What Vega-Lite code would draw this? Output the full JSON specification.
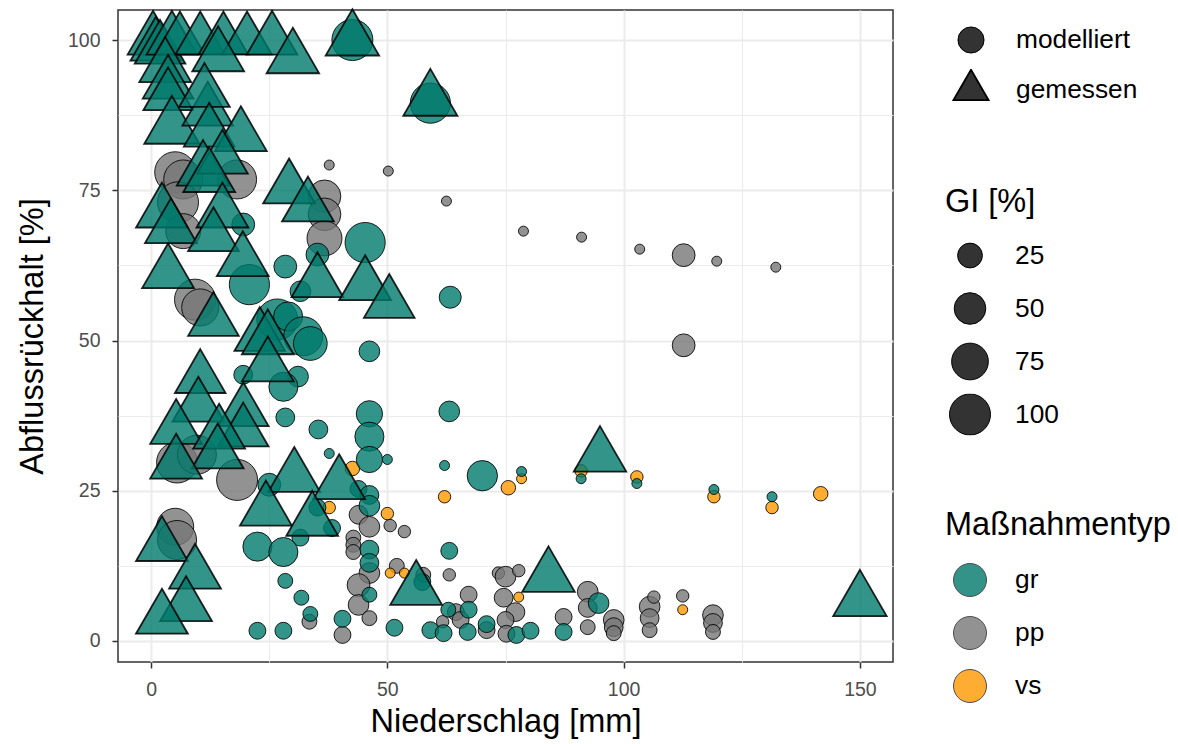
{
  "$schema": "https://vega.github.io/schema/vega-lite/v6.json",
  "autosize": {"type": "none"},
  "width": 775,
  "height": 652,
  "padding": {"left": 118, "top": 10, "right": 285, "bottom": 82},
  "background": "white",
  "config": {
    "font": "Liberation Sans",
    "view": {"stroke": "#333333", "strokeWidth": 1.5},
    "axis": {
      "domain": false,
      "grid": true,
      "gridColor": "#ebebeb",
      "tickColor": "#333333",
      "tickSize": 6,
      "tickWidth": 1.5,
      "labelFont": "Liberation Sans",
      "labelFontSize": 19.5,
      "labelColor": "#4d4d4d",
      "titleFont": "Liberation Sans",
      "titleFontSize": 32.5,
      "titleFontWeight": "normal",
      "titleColor": "#000000"
    },
    "legend": {
      "orient": "none",
      "padding": 0,
      "titleFont": "Liberation Sans",
      "titleFontSize": 32.5,
      "titleFontWeight": "normal",
      "titleColor": "#000000",
      "titleLimit": 400,
      "labelFont": "Liberation Sans",
      "labelFontSize": 26.3,
      "labelColor": "#000000",
      "labelLimit": 300
    }
  },
  "data": {
    "values": [
      {"N": 37.7, "R": 79.2, "GI": 3, "typ": "pp", "art": "modelliert"},
      {"N": 50.2, "R": 78.2, "GI": 3, "typ": "pp", "art": "modelliert"},
      {"N": 62.5, "R": 73.2, "GI": 3, "typ": "pp", "art": "modelliert"},
      {"N": 78.8, "R": 68.2, "GI": 3, "typ": "pp", "art": "modelliert"},
      {"N": 91.1, "R": 67.2, "GI": 3, "typ": "pp", "art": "modelliert"},
      {"N": 103.4, "R": 65.2, "GI": 3, "typ": "pp", "art": "modelliert"},
      {"N": 112.7, "R": 64.2, "GI": 20, "typ": "pp", "art": "modelliert"},
      {"N": 119.7, "R": 63.2, "GI": 3, "typ": "pp", "art": "modelliert"},
      {"N": 132.2, "R": 62.2, "GI": 3, "typ": "pp", "art": "modelliert"},
      {"N": 112.7, "R": 49.2, "GI": 20, "typ": "pp", "art": "modelliert"},
      {"N": 36.7, "R": 74, "GI": 55, "typ": "pp", "art": "modelliert"},
      {"N": 36.7, "R": 71, "GI": 55, "typ": "pp", "art": "modelliert"},
      {"N": 36.7, "R": 67, "GI": 66, "typ": "pp", "art": "modelliert"},
      {"N": 5.1, "R": 78, "GI": 100, "typ": "pp", "art": "modelliert"},
      {"N": 6.8, "R": 76.8, "GI": 88, "typ": "pp", "art": "modelliert"},
      {"N": 18.2, "R": 76.8, "GI": 88, "typ": "pp", "art": "modelliert"},
      {"N": 5.7, "R": 73, "GI": 100, "typ": "pp", "art": "modelliert"},
      {"N": 6.8, "R": 68.2, "GI": 66, "typ": "pp", "art": "modelliert"},
      {"N": 9.3, "R": 56.8, "GI": 100, "typ": "pp", "art": "modelliert"},
      {"N": 10.4, "R": 55.5, "GI": 77, "typ": "pp", "art": "modelliert"},
      {"N": 5.5, "R": 29.7, "GI": 100, "typ": "pp", "art": "modelliert"},
      {"N": 9.7, "R": 31, "GI": 88, "typ": "pp", "art": "modelliert"},
      {"N": 18.2, "R": 26.8, "GI": 100, "typ": "pp", "art": "modelliert"},
      {"N": 5.1, "R": 19, "GI": 77, "typ": "pp", "art": "modelliert"},
      {"N": 5.5, "R": 16.8, "GI": 88, "typ": "pp", "art": "modelliert"},
      {"N": 43.9, "R": 21, "GI": 11, "typ": "pp", "art": "modelliert"},
      {"N": 46.2, "R": 19, "GI": 15, "typ": "pp", "art": "modelliert"},
      {"N": 50.6, "R": 19.2, "GI": 4, "typ": "pp", "art": "modelliert"},
      {"N": 53.6, "R": 18.2, "GI": 4, "typ": "pp", "art": "modelliert"},
      {"N": 42.8, "R": 17.2, "GI": 5.5, "typ": "pp", "art": "modelliert"},
      {"N": 42.8, "R": 16, "GI": 5.5, "typ": "pp", "art": "modelliert"},
      {"N": 42.8, "R": 14.8, "GI": 5.5, "typ": "pp", "art": "modelliert"},
      {"N": 46.2, "R": 11.3, "GI": 15, "typ": "pp", "art": "modelliert"},
      {"N": 43.9, "R": 9.3, "GI": 20, "typ": "pp", "art": "modelliert"},
      {"N": 43.9, "R": 6, "GI": 15, "typ": "pp", "art": "modelliert"},
      {"N": 46.2, "R": 3.8, "GI": 5.5, "typ": "pp", "art": "modelliert"},
      {"N": 33.5, "R": 3.2, "GI": 5.5, "typ": "pp", "art": "modelliert"},
      {"N": 40.5, "R": 1, "GI": 8, "typ": "pp", "art": "modelliert"},
      {"N": 52, "R": 12.5, "GI": 5.5, "typ": "pp", "art": "modelliert"},
      {"N": 57.6, "R": 11, "GI": 5.5, "typ": "pp", "art": "modelliert"},
      {"N": 63.1, "R": 11, "GI": 4, "typ": "pp", "art": "modelliert"},
      {"N": 61.7, "R": 3.2, "GI": 4, "typ": "pp", "art": "modelliert"},
      {"N": 64.5, "R": 4.8, "GI": 8, "typ": "pp", "art": "modelliert"},
      {"N": 67.2, "R": 7.7, "GI": 8, "typ": "pp", "art": "modelliert"},
      {"N": 65.5, "R": 3.5, "GI": 8, "typ": "pp", "art": "modelliert"},
      {"N": 71, "R": 1.8, "GI": 8, "typ": "pp", "art": "modelliert"},
      {"N": 73.5, "R": 11.3, "GI": 4, "typ": "pp", "art": "modelliert"},
      {"N": 75, "R": 10.7, "GI": 15, "typ": "pp", "art": "modelliert"},
      {"N": 77.8, "R": 11.7, "GI": 4, "typ": "pp", "art": "modelliert"},
      {"N": 74.6, "R": 7.2, "GI": 11, "typ": "pp", "art": "modelliert"},
      {"N": 77.1, "R": 4.8, "GI": 11, "typ": "pp", "art": "modelliert"},
      {"N": 75, "R": 3.5, "GI": 8, "typ": "pp", "art": "modelliert"},
      {"N": 75.2, "R": 1.2, "GI": 8, "typ": "pp", "art": "modelliert"},
      {"N": 92.4, "R": 8.2, "GI": 15, "typ": "pp", "art": "modelliert"},
      {"N": 92.4, "R": 5.5, "GI": 11, "typ": "pp", "art": "modelliert"},
      {"N": 92.4, "R": 2.3, "GI": 5.5, "typ": "pp", "art": "modelliert"},
      {"N": 87.3, "R": 4, "GI": 8, "typ": "pp", "art": "modelliert"},
      {"N": 97.9, "R": 3.5, "GI": 15, "typ": "pp", "art": "modelliert"},
      {"N": 97.9, "R": 2.3, "GI": 11, "typ": "pp", "art": "modelliert"},
      {"N": 97.9, "R": 1.3, "GI": 5.5, "typ": "pp", "art": "modelliert"},
      {"N": 105.5, "R": 5.7, "GI": 15, "typ": "pp", "art": "modelliert"},
      {"N": 106.4, "R": 7.3, "GI": 4, "typ": "pp", "art": "modelliert"},
      {"N": 105.5, "R": 3.8, "GI": 11, "typ": "pp", "art": "modelliert"},
      {"N": 105.5, "R": 1.8, "GI": 5.5, "typ": "pp", "art": "modelliert"},
      {"N": 112.5, "R": 7.5, "GI": 4, "typ": "pp", "art": "modelliert"},
      {"N": 118.9, "R": 4.3, "GI": 15, "typ": "pp", "art": "modelliert"},
      {"N": 118.9, "R": 3, "GI": 11, "typ": "pp", "art": "modelliert"},
      {"N": 118.9, "R": 1.5, "GI": 5.5, "typ": "pp", "art": "modelliert"},

      {"N": 42.6, "R": 28.7, "GI": 5, "typ": "vs", "art": "modelliert"},
      {"N": 37.7, "R": 22.2, "GI": 4, "typ": "vs", "art": "modelliert"},
      {"N": 50, "R": 21.2, "GI": 4, "typ": "vs", "art": "modelliert"},
      {"N": 62.1, "R": 24, "GI": 4, "typ": "vs", "art": "modelliert"},
      {"N": 75.6, "R": 25.5, "GI": 5, "typ": "vs", "art": "modelliert"},
      {"N": 78.4, "R": 27, "GI": 3, "typ": "vs", "art": "modelliert"},
      {"N": 91, "R": 28.3, "GI": 4, "typ": "vs", "art": "modelliert"},
      {"N": 102.8, "R": 27.3, "GI": 4, "typ": "vs", "art": "modelliert"},
      {"N": 119.1, "R": 24, "GI": 4, "typ": "vs", "art": "modelliert"},
      {"N": 131.4, "R": 22.2, "GI": 4, "typ": "vs", "art": "modelliert"},
      {"N": 141.7, "R": 24.5, "GI": 5, "typ": "vs", "art": "modelliert"},
      {"N": 50.6, "R": 11.3, "GI": 3, "typ": "vs", "art": "modelliert"},
      {"N": 53.6, "R": 11.3, "GI": 3, "typ": "vs", "art": "modelliert"},
      {"N": 77.8, "R": 7.3, "GI": 3, "typ": "vs", "art": "modelliert"},
      {"N": 112.5, "R": 5.2, "GI": 3, "typ": "vs", "art": "modelliert"},

      {"N": 42.6, "R": 100, "GI": 100, "typ": "gr", "art": "modelliert"},
      {"N": 59.1, "R": 89.5, "GI": 95, "typ": "gr", "art": "modelliert"},
      {"N": 19.5, "R": 69.3, "GI": 20, "typ": "gr", "art": "modelliert"},
      {"N": 45.3, "R": 66.3, "GI": 95, "typ": "gr", "art": "modelliert"},
      {"N": 35.2, "R": 64.3, "GI": 20, "typ": "gr", "art": "modelliert"},
      {"N": 28.4, "R": 62.3, "GI": 20, "typ": "gr", "art": "modelliert"},
      {"N": 20.8, "R": 59.3, "GI": 95, "typ": "gr", "art": "modelliert"},
      {"N": 31.6, "R": 58.2, "GI": 15, "typ": "gr", "art": "modelliert"},
      {"N": 63.3, "R": 57.2, "GI": 18, "typ": "gr", "art": "modelliert"},
      {"N": 26.7, "R": 53.5, "GI": 100, "typ": "gr", "art": "modelliert"},
      {"N": 29, "R": 54, "GI": 40, "typ": "gr", "art": "modelliert"},
      {"N": 32.2, "R": 50.7, "GI": 88, "typ": "gr", "art": "modelliert"},
      {"N": 33.7, "R": 49.5, "GI": 60, "typ": "gr", "art": "modelliert"},
      {"N": 46.2, "R": 48.2, "GI": 15, "typ": "gr", "art": "modelliert"},
      {"N": 19.5, "R": 44.3, "GI": 11, "typ": "gr", "art": "modelliert"},
      {"N": 31.1, "R": 44, "GI": 15, "typ": "gr", "art": "modelliert"},
      {"N": 28, "R": 42.3, "GI": 40, "typ": "gr", "art": "modelliert"},
      {"N": 28.4, "R": 37.2, "GI": 11, "typ": "gr", "art": "modelliert"},
      {"N": 46.2, "R": 37.8, "GI": 30, "typ": "gr", "art": "modelliert"},
      {"N": 35.4, "R": 35.2, "GI": 11, "typ": "gr", "art": "modelliert"},
      {"N": 63.1, "R": 38.2, "GI": 15, "typ": "gr", "art": "modelliert"},
      {"N": 46.2, "R": 34, "GI": 40, "typ": "gr", "art": "modelliert"},
      {"N": 37.7, "R": 31.2, "GI": 3, "typ": "gr", "art": "modelliert"},
      {"N": 46.2, "R": 30.2, "GI": 30, "typ": "gr", "art": "modelliert"},
      {"N": 50, "R": 30.2, "GI": 3, "typ": "gr", "art": "modelliert"},
      {"N": 62.1, "R": 29.2, "GI": 3, "typ": "gr", "art": "modelliert"},
      {"N": 70.1, "R": 27.5, "GI": 45, "typ": "gr", "art": "modelliert"},
      {"N": 78.4, "R": 28.2, "GI": 3, "typ": "gr", "art": "modelliert"},
      {"N": 91, "R": 27, "GI": 3, "typ": "gr", "art": "modelliert"},
      {"N": 102.8, "R": 26.2, "GI": 3, "typ": "gr", "art": "modelliert"},
      {"N": 119.1, "R": 25.2, "GI": 3, "typ": "gr", "art": "modelliert"},
      {"N": 131.4, "R": 24, "GI": 3, "typ": "gr", "art": "modelliert"},
      {"N": 43.9, "R": 25.3, "GI": 8, "typ": "gr", "art": "modelliert"},
      {"N": 46.2, "R": 24.3, "GI": 11, "typ": "gr", "art": "modelliert"},
      {"N": 46.2, "R": 22.5, "GI": 15, "typ": "gr", "art": "modelliert"},
      {"N": 25, "R": 26, "GI": 20, "typ": "gr", "art": "modelliert"},
      {"N": 35.2, "R": 22.2, "GI": 8, "typ": "gr", "art": "modelliert"},
      {"N": 38.3, "R": 18.8, "GI": 8, "typ": "gr", "art": "modelliert"},
      {"N": 31.6, "R": 17.2, "GI": 8, "typ": "gr", "art": "modelliert"},
      {"N": 46.2, "R": 15.2, "GI": 11, "typ": "gr", "art": "modelliert"},
      {"N": 46.2, "R": 13, "GI": 11, "typ": "gr", "art": "modelliert"},
      {"N": 22.5, "R": 15.7, "GI": 40, "typ": "gr", "art": "modelliert"},
      {"N": 28, "R": 14.8, "GI": 40, "typ": "gr", "art": "modelliert"},
      {"N": 28.4, "R": 10, "GI": 5.5, "typ": "gr", "art": "modelliert"},
      {"N": 31.8, "R": 7.2, "GI": 5.5, "typ": "gr", "art": "modelliert"},
      {"N": 33.7, "R": 4.5, "GI": 5.5, "typ": "gr", "art": "modelliert"},
      {"N": 46.2, "R": 7.7, "GI": 5.5, "typ": "gr", "art": "modelliert"},
      {"N": 40.5, "R": 3.7, "GI": 8, "typ": "gr", "art": "modelliert"},
      {"N": 22.5, "R": 1.7, "GI": 8, "typ": "gr", "art": "modelliert"},
      {"N": 28, "R": 1.7, "GI": 8, "typ": "gr", "art": "modelliert"},
      {"N": 57.4, "R": 9.8, "GI": 8, "typ": "gr", "art": "modelliert"},
      {"N": 63.1, "R": 15, "GI": 8, "typ": "gr", "art": "modelliert"},
      {"N": 62.9, "R": 5.2, "GI": 5.5, "typ": "gr", "art": "modelliert"},
      {"N": 59.1, "R": 1.8, "GI": 8, "typ": "gr", "art": "modelliert"},
      {"N": 61.9, "R": 1.3, "GI": 8, "typ": "gr", "art": "modelliert"},
      {"N": 51.5, "R": 2.2, "GI": 8, "typ": "gr", "art": "modelliert"},
      {"N": 67.2, "R": 5.2, "GI": 8, "typ": "gr", "art": "modelliert"},
      {"N": 67, "R": 1.5, "GI": 8, "typ": "gr", "art": "modelliert"},
      {"N": 71, "R": 2.8, "GI": 8, "typ": "gr", "art": "modelliert"},
      {"N": 77.3, "R": 1, "GI": 8, "typ": "gr", "art": "modelliert"},
      {"N": 80.3, "R": 1.7, "GI": 8, "typ": "gr", "art": "modelliert"},
      {"N": 94.7, "R": 6.3, "GI": 15, "typ": "gr", "art": "modelliert"},
      {"N": 87.3, "R": 1.5, "GI": 8, "typ": "gr", "art": "modelliert"},

      {"N": 0.4, "R": 100, "GI": 80, "typ": "gr", "art": "gemessen"},
      {"N": 1.0, "R": 99, "GI": 80, "typ": "gr", "art": "gemessen"},
      {"N": 1.9, "R": 98.5, "GI": 80, "typ": "gr", "art": "gemessen"},
      {"N": 4.4, "R": 100, "GI": 80, "typ": "gr", "art": "gemessen"},
      {"N": 6.1, "R": 100, "GI": 75, "typ": "gr", "art": "gemessen"},
      {"N": 10.4, "R": 100, "GI": 75, "typ": "gr", "art": "gemessen"},
      {"N": 15.3, "R": 100, "GI": 75, "typ": "gr", "art": "gemessen"},
      {"N": 20.3, "R": 100, "GI": 75, "typ": "gr", "art": "gemessen"},
      {"N": 25.6, "R": 100, "GI": 80, "typ": "gr", "art": "gemessen"},
      {"N": 42.6, "R": 100, "GI": 92, "typ": "gr", "art": "gemessen"},
      {"N": 14.2, "R": 97.3, "GI": 85, "typ": "gr", "art": "gemessen"},
      {"N": 30, "R": 97, "GI": 88, "typ": "gr", "art": "gemessen"},
      {"N": 3, "R": 95.5, "GI": 85, "typ": "gr", "art": "gemessen"},
      {"N": 3.6, "R": 92.7, "GI": 80, "typ": "gr", "art": "gemessen"},
      {"N": 3.6, "R": 90.7, "GI": 75, "typ": "gr", "art": "gemessen"},
      {"N": 4.4, "R": 85.4, "GI": 100, "typ": "gr", "art": "gemessen"},
      {"N": 12, "R": 88.2, "GI": 80, "typ": "gr", "art": "gemessen"},
      {"N": 11.3, "R": 91.3, "GI": 80, "typ": "gr", "art": "gemessen"},
      {"N": 12.3, "R": 84.7, "GI": 80, "typ": "gr", "art": "gemessen"},
      {"N": 19, "R": 84, "GI": 85, "typ": "gr", "art": "gemessen"},
      {"N": 11, "R": 78.3, "GI": 88, "typ": "gr", "art": "gemessen"},
      {"N": 15.1, "R": 80.2, "GI": 80, "typ": "gr", "art": "gemessen"},
      {"N": 12.3, "R": 77.2, "GI": 85, "typ": "gr", "art": "gemessen"},
      {"N": 29.2, "R": 75.3, "GI": 85, "typ": "gr", "art": "gemessen"},
      {"N": 33.2, "R": 72.3, "GI": 85, "typ": "gr", "art": "gemessen"},
      {"N": 59.1, "R": 90, "GI": 95, "typ": "gr", "art": "gemessen"},
      {"N": 2.3, "R": 71.3, "GI": 85, "typ": "gr", "art": "gemessen"},
      {"N": 4.2, "R": 68.7, "GI": 85, "typ": "gr", "art": "gemessen"},
      {"N": 15.1, "R": 71.3, "GI": 85, "typ": "gr", "art": "gemessen"},
      {"N": 13.2, "R": 67.3, "GI": 80, "typ": "gr", "art": "gemessen"},
      {"N": 3.6, "R": 61.2, "GI": 85, "typ": "gr", "art": "gemessen"},
      {"N": 19.4, "R": 63.2, "GI": 85, "typ": "gr", "art": "gemessen"},
      {"N": 35.2, "R": 59.7, "GI": 85, "typ": "gr", "art": "gemessen"},
      {"N": 45.3, "R": 59.2, "GI": 85, "typ": "gr", "art": "gemessen"},
      {"N": 50.4, "R": 56.2, "GI": 80, "typ": "gr", "art": "gemessen"},
      {"N": 13.2, "R": 53.2, "GI": 80, "typ": "gr", "art": "gemessen"},
      {"N": 23, "R": 50.7, "GI": 80, "typ": "gr", "art": "gemessen"},
      {"N": 24.7, "R": 50.2, "GI": 85, "typ": "gr", "art": "gemessen"},
      {"N": 24.7, "R": 45.7, "GI": 85, "typ": "gr", "art": "gemessen"},
      {"N": 10.4, "R": 43.7, "GI": 80, "typ": "gr", "art": "gemessen"},
      {"N": 10, "R": 39, "GI": 85, "typ": "gr", "art": "gemessen"},
      {"N": 5.3, "R": 35.3, "GI": 85, "typ": "gr", "art": "gemessen"},
      {"N": 19.5, "R": 38.2, "GI": 80, "typ": "gr", "art": "gemessen"},
      {"N": 19.5, "R": 34.8, "GI": 80, "typ": "gr", "art": "gemessen"},
      {"N": 14.4, "R": 34.5, "GI": 85, "typ": "gr", "art": "gemessen"},
      {"N": 14.1, "R": 31.2, "GI": 85, "typ": "gr", "art": "gemessen"},
      {"N": 5.3, "R": 29.5, "GI": 85, "typ": "gr", "art": "gemessen"},
      {"N": 30.3, "R": 27.3, "GI": 85, "typ": "gr", "art": "gemessen"},
      {"N": 39.8, "R": 26.1, "GI": 85, "typ": "gr", "art": "gemessen"},
      {"N": 24.3, "R": 21.7, "GI": 85, "typ": "gr", "art": "gemessen"},
      {"N": 34.1, "R": 20, "GI": 85, "typ": "gr", "art": "gemessen"},
      {"N": 2.3, "R": 15.8, "GI": 85, "typ": "gr", "art": "gemessen"},
      {"N": 9.3, "R": 11.2, "GI": 85, "typ": "gr", "art": "gemessen"},
      {"N": 7.4, "R": 5.8, "GI": 85, "typ": "gr", "art": "gemessen"},
      {"N": 2.3, "R": 3.7, "GI": 85, "typ": "gr", "art": "gemessen"},
      {"N": 56.1, "R": 8.5, "GI": 85, "typ": "gr", "art": "gemessen"},
      {"N": 84.1, "R": 10.7, "GI": 88, "typ": "gr", "art": "gemessen"},
      {"N": 95, "R": 30.7, "GI": 88, "typ": "gr", "art": "gemessen"},
      {"N": 150, "R": 6.7, "GI": 92, "typ": "gr", "art": "gemessen"}
    ]
  },
  "mark": {
    "type": "point",
    "filled": true,
    "fillOpacity": 0.8,
    "stroke": "#000000",
    "strokeOpacity": 0.85
  },
  "encoding": {
    "x": {
      "field": "N",
      "type": "quantitative",
      "scale": {"domain": [-7, 157], "nice": false, "zero": false},
      "axis": {
        "title": "Niederschlag [mm]",
        "values": [0, 25, 50, 75, 100, 125, 150],
        "labelExpr": "datum.value % 50 === 0 ? datum.label : ''",
        "gridWidth": {"condition": {"test": "datum.value % 50 === 0", "value": 2}, "value": 1},
        "tickOpacity": {"condition": {"test": "datum.value % 50 === 0", "value": 1}, "value": 0},
        "labelPadding": 12,
        "titlePadding": 7
      }
    },
    "y": {
      "field": "R",
      "type": "quantitative",
      "scale": {"domain": [-3.5, 105], "nice": false, "zero": false},
      "axis": {
        "title": "Abflussrückhalt [%]",
        "values": [0, 12.5, 25, 37.5, 50, 62.5, 75, 87.5, 100],
        "labelExpr": "datum.value % 25 === 0 ? datum.label : ''",
        "gridWidth": {"condition": {"test": "datum.value % 25 === 0", "value": 2}, "value": 1},
        "tickOpacity": {"condition": {"test": "datum.value % 25 === 0", "value": 1}, "value": 0},
        "labelPadding": 12,
        "titlePadding": 18
      }
    },
    "fill": {
      "field": "typ",
      "type": "nominal",
      "scale": {"domain": ["gr", "pp", "vs"], "range": ["#00796B", "#777777", "#FF9800"]},
      "legend": {
        "title": "Maßnahmentyp",
        "legendX": 827,
        "legendY": 499,
        "symbolType": "circle",
        "symbolSize": 1089,
        "symbolOpacity": 0.8,
        "symbolStrokeColor": "#222222",
        "symbolStrokeWidth": 1,
        "symbolOffset": 8,
        "labelOffset": 28,
        "clipHeight": 35,
        "rowPadding": 18,
        "titlePadding": 21
      }
    },
    "size": {
      "field": "GI",
      "type": "quantitative",
      "scale": {
        "domain": [3, 5, 10, 25, 50, 75, 100],
        "range": [100, 210, 335, 615, 999, 1347, 1681]
      },
      "legend": {
        "title": "GI [%]",
        "values": [25, 50, 75, 100],
        "legendX": 827,
        "legendY": 176,
        "symbolFillColor": "#333333",
        "symbolStrokeColor": "#000000",
        "symbolStrokeWidth": 1,
        "symbolOffset": 4,
        "labelOffset": 24,
        "clipHeight": 42,
        "rowPadding": 11,
        "titlePadding": 16
      }
    },
    "shape": {
      "field": "art",
      "type": "nominal",
      "scale": {
        "domain": ["modelliert", "gemessen"],
        "range": ["circle", "M0,-1.555L1.347,0.778L-1.347,0.778Z"]
      },
      "legend": {
        "title": null,
        "legendX": 827,
        "legendY": 9,
        "symbolSize": 680,
        "symbolFillColor": "#333333",
        "symbolStrokeColor": "#000000",
        "symbolStrokeWidth": 1.5,
        "symbolOffset": 12,
        "labelOffset": 31,
        "clipHeight": 42,
        "rowPadding": 8
      }
    },
    "strokeWidth": {
      "field": "art",
      "type": "nominal",
      "scale": {"domain": ["modelliert", "gemessen"], "range": [1, 1.8]},
      "legend": null
    }
  }
}
